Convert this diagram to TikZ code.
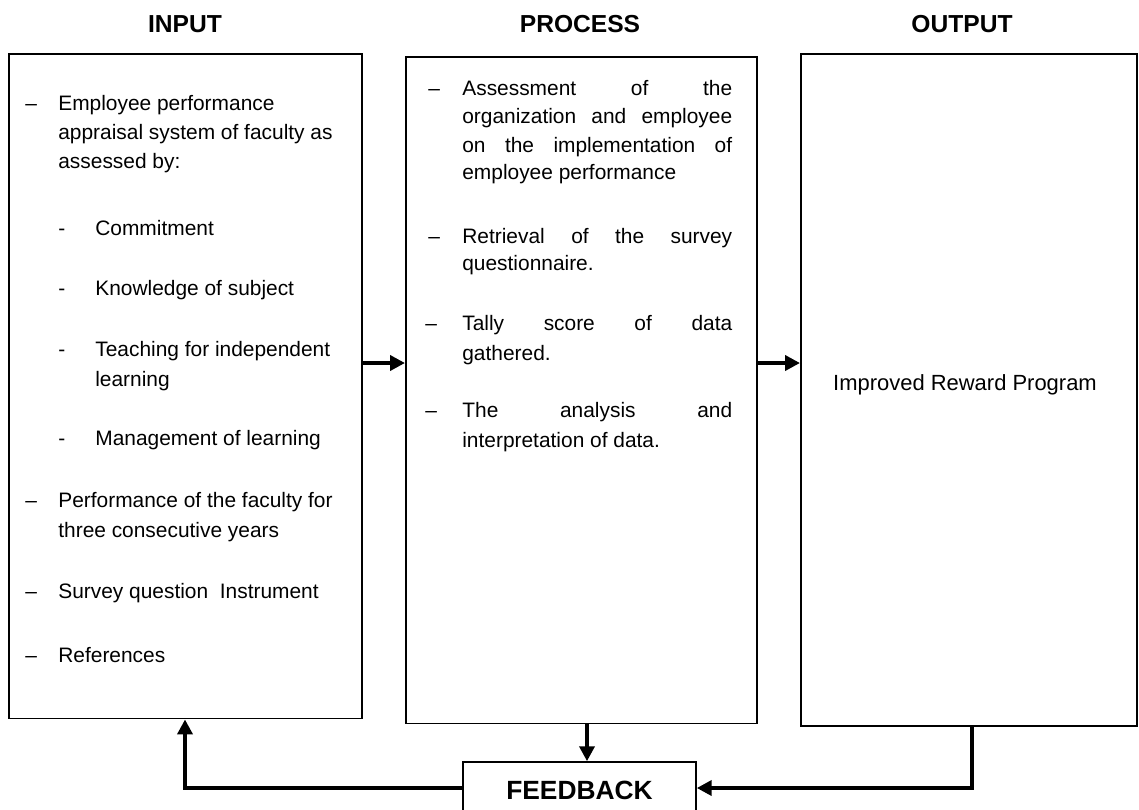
\documentclass[tikz,border=0pt]{standalone}
\usepackage{fontspec}
\setmainfont{Liberation Sans}
\usetikzlibrary{arrows.meta}
\newcommand\jl[1]{\makebox[153.6pt][s]{#1}}
\begin{document}
\begin{tikzpicture}[x=0.02cm,y=-0.02cm,
  box/.style={draw,line width=0.9pt,inner sep=0,anchor=north west},
  hdr/.style={font=\fontsize{14}{16}\selectfont\bfseries,anchor=base,inner sep=0},
  txt/.style={font=\fontsize{11.9}{14}\selectfont,anchor=base west,inner sep=0},
  arr/.style={line width=2.4pt,-{Triangle[length=8.5pt,width=8.5pt]}}]
\clip (0,0) rectangle (1139,809);
\useasboundingbox (0,0) rectangle (1139,809);
% headers
\node[hdr] (hin) at (185,32) {INPUT};
\node[hdr] (hpr) at (580,32) {PROCESS};
\node[hdr] (hout) at (962,32) {OUTPUT};
% boxes
\node[box,minimum width=7.06cm,minimum height=13.3cm] (input) at (8,53) {};
\node[box,minimum width=7.02cm,minimum height=13.34cm] (process) at (405,56) {};
\node[box,line width=1.2pt,minimum width=6.72cm,minimum height=13.44cm] (output) at (800,53) {};
\node[draw,line width=0.9pt,minimum width=4.66cm,minimum height=1.12cm,inner sep=0,
  font=\fontsize{15}{17}\selectfont\bfseries] (feedback) at (579.5,790) {FEEDBACK};
% input text
\node[txt] (d1) at (25,110) {–};
\node[txt] (i1) at (58,110) {Employee performance};
\node[txt] (i2) at (58,139) {appraisal system of faculty as};
\node[txt] (i3) at (58,168) {assessed by:};
\node[txt] (s1) at (58,235) {-};
\node[txt] (i4) at (95,235) {Commitment};
\node[txt] (s2) at (58,295) {-};
\node[txt] (i5) at (95,295) {Knowledge of subject};
\node[txt] (s3) at (58,356) {-};
\node[txt] (i6) at (95,356) {Teaching for independent};
\node[txt] (i7) at (95,386) {learning};
\node[txt] (s4) at (58,445) {-};
\node[txt] (i8) at (95,445) {Management of learning};
\node[txt] (d2) at (25,507) {–};
\node[txt] (i9) at (58,507) {Performance of the faculty for};
\node[txt] (i10) at (58,537) {three consecutive years};
\node[txt] (d3) at (25,598) {–};
\node[txt] (i11) at (58,598) {Survey question\ \ Instrument};
\node[txt] (d4) at (25,662) {–};
\node[txt] (i12) at (58,662) {References};
% process text
\node[txt] (pd1) at (428,95) {–};
\node[txt] (p1) at (462,95) {\jl{Assessment of the}};
\node[txt] (p2) at (462,123) {\jl{organization and employee}};
\node[txt] (p3) at (462,152) {\jl{on the implementation of}};
\node[txt] (p4) at (462,179) {employee performance};
\node[txt] (pd2) at (428,243) {–};
\node[txt] (p5) at (462,243) {\jl{Retrieval of the survey}};
\node[txt] (p6) at (462,270) {questionnaire.};
\node[txt] (pd3) at (425,330) {–};
\node[txt] (p7) at (462,330) {\jl{Tally score of data}};
\node[txt] (p8) at (462,360) {gathered.};
\node[txt] (pd4) at (425,417) {–};
\node[txt] (p9) at (462,417) {\jl{The analysis and}};
\node[txt] (p10) at (462,447) {interpretation of data.};
% output text
\node[font=\fontsize{12.5}{14}\selectfont,inner sep=0,anchor=base] (o1) at (965,390) {Improved Reward Program};
% connectors
\coordinate (ya) at (0,363);
\coordinate (xa) at (587,0);
\coordinate (xo) at (972,0);
\coordinate (xi) at (185,0);
\coordinate (yf) at (0,788);
\draw[arr] (input.east |- ya) -- (process.west |- ya);
\draw[arr] (process.east |- ya) -- (output.west |- ya);
\draw[arr] (process.south -| xa) -- (feedback.north -| xa);
\draw[arr] (output.south -| xo) |- (feedback.east |- yf);
\draw[arr] (feedback.west |- yf) -| (input.south -| xi);
\end{tikzpicture}
\end{document}
